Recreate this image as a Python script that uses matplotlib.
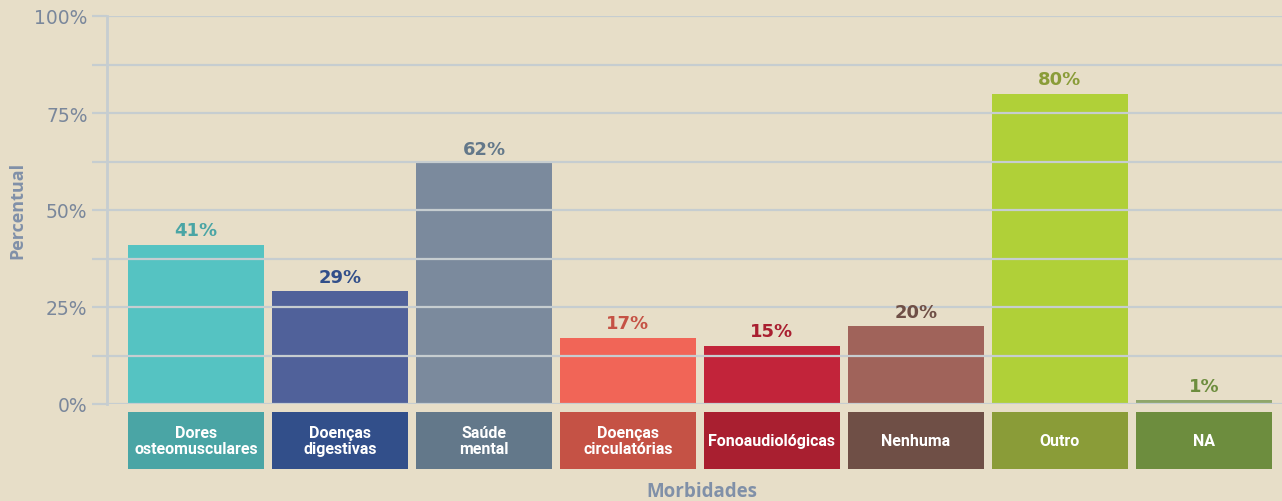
import numpy as np
import matplotlib
matplotlib.use("Agg")
import matplotlib.pyplot as plt
from matplotlib.ticker import FixedLocator, FuncFormatter

# Data
categories = ["Dores\nosteomusculares", "Doenças\ndigestivas", "Saúde\nmental",
              "Doenças\ncirculatórias", "Fonoaudiológicas", "Nenhuma", "Outro", "NA"]
values = [41, 29, 62, 17, 15, 20, 80, 1]
bar_colors = ["#55c3c2", "#50619a", "#7b8a9d", "#f16557", "#c2243a", "#a0635a", "#b0d038", "#8fa66b"]
dark_colors = ["#4aa5a5", "#324f8a", "#63788a", "#c55245", "#a91f30", "#6f4f46", "#8a9c38", "#6d8d3e"]
y_ticks = [0, 25, 50, 75, 100]
y_minor = [12.5, 37.5, 62.5, 87.5]

bg = "#e7dec8"
grid_c = "#c6cdd0"
axis_txt = "#7a879b"

fig = plt.figure(figsize=(12.82, 5.02), dpi=100, facecolor=bg)
ax = fig.add_axes([107 / 1282, 1 - 405 / 502, 1 - 107 / 1282, 388 / 502])
ax.set_facecolor(bg)

x = np.arange(len(categories))
width = 136 / 144
ax.bar(x, values, width=width, color=bar_colors, zorder=1)

# label boxes under the axis
box_top, box_bottom = -2.06, -16.75
ax.bar(x, box_top - box_bottom, bottom=box_bottom, width=width,
       color=dark_colors, clip_on=False, zorder=1)
for xi, cat in zip(x, categories):
    ax.text(xi, (box_top + box_bottom) / 2, cat, ha="center", va="center",
            color="white", fontsize=11.5, fontweight="bold",
            family=["Roboto", "DejaVu Sans"],
            linespacing=1.15, clip_on=False)

# value labels
for xi, v, c in zip(x, values, dark_colors):
    ax.annotate(f"{v}%", (xi, v), xytext=(0, 4), textcoords="offset points",
                ha="center", va="bottom", color=c, fontsize=13, fontweight="bold",
                family="DejaVu Sans")

ax.set_xlim(-89 / 144, (1282 - 196) / 144)
ax.set_ylim(0, 100)

ax.yaxis.set_major_locator(FixedLocator(y_ticks))
ax.yaxis.set_minor_locator(FixedLocator(y_minor))
ax.yaxis.set_major_formatter(FuncFormatter(lambda v, p: f"{int(v)}%"))
ax.grid(axis="y", which="both", color=grid_c, linewidth=1.6, zorder=2)
ax.set_axisbelow(False)
ax.tick_params(axis="y", which="both", length=11, width=1.6, color=grid_c,
               labelsize=13.5, labelcolor=axis_txt, pad=3)
for lab in ax.get_yticklabels():
    lab.set_family("DejaVu Sans")
ax.set_xticks([])

for s in ["top", "right", "bottom"]:
    ax.spines[s].set_visible(False)
ax.spines["left"].set_color(grid_c)
ax.spines["left"].set_linewidth(2)
ax.spines["left"].set_zorder(3)

fig.text(17 / 1282, 1 - 210 / 502, "Percentual", rotation=90, ha="center", va="center",
         color="#8090a8", fontsize=13, fontweight="bold", family=["Open Sans", "DejaVu Sans"])
fig.text(702 / 1282, 1 - 492 / 502, "Morbidades", ha="center", va="center",
         color="#8090a8", fontsize=13.5, fontweight="bold", family=["Open Sans", "DejaVu Sans"])

fig.savefig("out.png", dpi=100, facecolor=bg)
